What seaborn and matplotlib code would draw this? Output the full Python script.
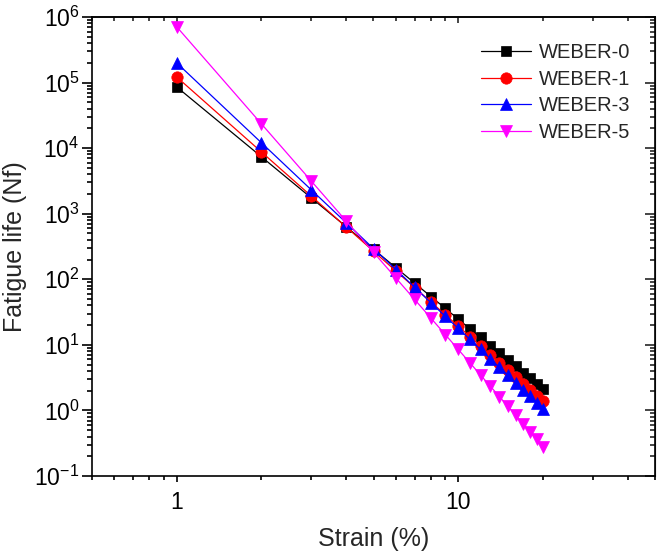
import matplotlib
matplotlib.use("Agg")
import matplotlib.pyplot as plt
import matplotlib.ticker as mticker
import seaborn as sns
import pandas as pd

strain = [1, 2, 3, 4, 5, 6, 7, 8, 9, 10, 11, 12, 13, 14, 15, 16, 17, 18, 19, 20]
weber0 = [85700, 7370, 1754, 634, 287, 151, 87.4, 54.5, 35.9, 24.7,
          17.6, 12.96, 9.77, 7.51, 5.88, 4.68, 3.78, 3.09, 2.55, 2.13]
weber1 = [121600, 8730, 1870, 627, 268, 134, 74.8, 45.0, 28.8, 19.3,
          13.4, 9.64, 7.11, 5.37, 4.13, 3.23, 2.57, 2.07, 1.68, 1.40]
weber3 = [199500, 12050, 2330, 727, 294, 141, 75.4, 43.9, 27.2, 17.8,
          12.1, 8.50, 6.14, 4.55, 3.44, 2.65, 2.07, 1.64, 1.32, 1.07]
weber5 = [708000, 23400, 3180, 773, 258, 105, 49.2, 25.5, 14.3, 8.51,
          5.33, 3.47, 2.34, 1.63, 1.16, 0.843, 0.625, 0.472, 0.362, 0.281]

series_names = ["WEBER-0", "WEBER-1", "WEBER-3", "WEBER-5"]
series_values = [weber0, weber1, weber3, weber5]
colors = ["#000000", "#FF0000", "#0000FF", "#FF00FF"]
marker_list = ["s", "o", "^", "v"]
marker_sizes = [7.5, 8.2, 9.2, 9.2]

rows = []
for name, vals in zip(series_names, series_values):
    for s, v in zip(strain, vals):
        rows.append({"Strain": s, "Nf": v, "Series": name})
df = pd.DataFrame(rows)

sns.set_style("ticks")
plt.rcParams["font.family"] = ["Liberation Sans", "DejaVu Sans"]
plt.rcParams["mathtext.fontset"] = "custom"
plt.rcParams["mathtext.rm"] = "Liberation Sans"
plt.rcParams["mathtext.it"] = "Liberation Sans:italic"
plt.rcParams["mathtext.default"] = "regular"

fig = plt.figure(figsize=(6.57, 5.57), dpi=100)
ax = fig.add_axes([92 / 657, 1 - 476 / 557, (655 - 92) / 657, (476 - 17) / 557])

sns.lineplot(data=df, x="Strain", y="Nf", hue="Series", style="Series",
             palette=dict(zip(series_names, colors)),
             markers=dict(zip(series_names, marker_list)),
             dashes=False, markersize=8, markeredgewidth=0.5,
             linewidth=0.9, ax=ax, legend=False)

lines = ax.get_lines()[:4]
for line, c, ms in zip(lines, colors, marker_sizes):
    line.set_markeredgecolor(c)
    line.set_markersize(ms)

ax.set_xscale("log")
ax.set_yscale("log")
ax.set_xlim(0.5, 50)
ax.set_ylim(0.1, 1e6)

ax.xaxis.set_major_locator(mticker.FixedLocator([1, 10]))
ax.xaxis.set_major_formatter(mticker.FixedFormatter(["1", "10"]))
ax.xaxis.set_minor_locator(mticker.LogLocator(base=10, subs=range(2, 10)))
ax.xaxis.set_minor_formatter(mticker.NullFormatter())
ax.yaxis.set_major_locator(mticker.LogLocator(base=10, numticks=20))
ax.yaxis.set_minor_locator(mticker.LogLocator(base=10, subs=range(2, 10), numticks=20))
ax.yaxis.set_minor_formatter(mticker.NullFormatter())

ax.tick_params(axis="both", which="both", direction="out", width=1.2, labelsize=16.5, colors="black")
ax.tick_params(axis="y", which="major", length=7, pad=2)
ax.tick_params(axis="y", which="minor", length=3.5)
ax.tick_params(axis="x", which="major", length=4.5, pad=6)
ax.tick_params(axis="x", which="minor", length=3)

for sp in ax.spines.values():
    sp.set_visible(True)
    sp.set_linewidth(1.2)
    sp.set_color("black")

# inward ticks on top and right
top = ax.secondary_xaxis("top")
top.set_xscale("log")
top.xaxis.set_major_locator(mticker.FixedLocator([1, 10]))
top.xaxis.set_minor_locator(mticker.LogLocator(base=10, subs=range(2, 10)))
top.xaxis.set_major_formatter(mticker.NullFormatter())
top.xaxis.set_minor_formatter(mticker.NullFormatter())
top.tick_params(which="both", direction="in", width=1.2)
top.tick_params(which="major", length=4.5)
top.tick_params(which="minor", length=3)
top.spines["top"].set_linewidth(1.2)

right = ax.secondary_yaxis("right")
right.yaxis.set_major_locator(mticker.LogLocator(base=10, numticks=20))
right.yaxis.set_minor_locator(mticker.LogLocator(base=10, subs=range(2, 10), numticks=20))
right.yaxis.set_major_formatter(mticker.NullFormatter())
right.yaxis.set_minor_formatter(mticker.NullFormatter())
right.tick_params(which="both", direction="in", width=1.2)
right.tick_params(which="major", length=7)
right.tick_params(which="minor", length=3.5)

ax.set_xlabel("Strain (%)", fontsize=18, labelpad=10)
ax.set_ylabel("Fatigue life (Nf)", fontsize=18, labelpad=5)

leg = ax.legend(lines, series_names, loc="upper left",
                bbox_to_anchor=((481 - 92) / 563, 1 - (43 - 17) / 459),
                frameon=False, fontsize=14.5, handlelength=2.5, handletextpad=0.4,
                labelspacing=0.38, borderaxespad=0, borderpad=0)

fig.savefig("out.png", dpi=100)
